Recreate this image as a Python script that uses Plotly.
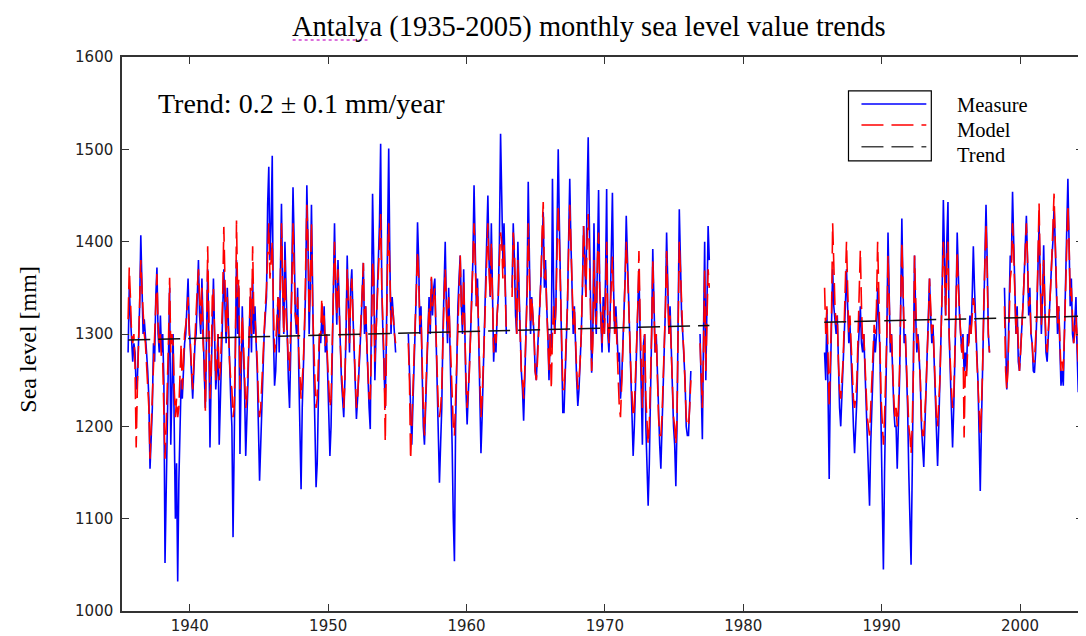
import plotly.graph_objects as go

# ---------------- data (monthly values, mm) ----------------
# Segment A: Jul 1935 .. Nov 1954
measure_1935_1954 = [
    1280, 1350, 1320, 1300, 1270, 1290,  # 1935 Jul-Dec
    1280, 1240, 1250, 1290, 1330, 1407, 1350, 1300, 1316, 1290, 1280, 1260,  # 1936
    1230, 1154, 1190, 1220, 1290, 1270, 1340, 1372, 1300, 1280, 1320, 1280,  # 1937
    1300, 1250, 1052, 1120, 1200, 1260, 1350, 1180, 1250, 1300, 1200, 1100,  # 1938
    1160, 1032, 1140, 1200, 1250, 1230, 1260, 1290, 1300, 1340, 1360, 1310,  # 1939
    1280, 1250, 1230, 1260, 1290, 1300, 1340, 1380, 1320, 1300, 1360, 1300,  # 1940
    1260, 1220, 1300, 1370, 1300, 1177, 1250, 1330, 1360, 1300, 1240, 1260,  # 1941
    1300, 1180, 1230, 1280, 1320, 1370, 1330, 1290, 1350, 1300, 1260, 1230,  # 1942
    1200, 1080, 1180, 1260, 1380, 1300, 1350, 1170, 1260, 1330, 1280, 1240,  # 1943
    1168, 1200, 1250, 1300, 1340, 1280, 1360, 1300, 1330, 1290, 1260, 1200,  # 1944
    1141, 1180, 1230, 1260, 1300, 1320, 1340, 1440, 1481, 1380, 1420, 1493,  # 1945
    1300, 1244, 1260, 1300, 1340, 1280, 1380, 1441, 1350, 1300, 1400, 1330,  # 1946
    1300, 1250, 1220, 1280, 1350, 1459, 1400, 1320, 1300, 1350, 1260, 1200,  # 1947
    1132, 1220, 1260, 1300, 1350, 1461, 1400, 1300, 1350, 1440, 1320, 1260,  # 1948
    1200, 1134, 1160, 1250, 1300, 1290, 1320, 1300, 1330, 1280, 1300, 1260,  # 1949
    1220, 1168, 1200, 1280, 1330, 1420, 1350, 1310, 1380, 1320, 1290, 1250,  # 1950
    1230, 1210, 1250, 1300, 1385, 1330, 1280, 1350, 1370, 1320, 1280, 1240,  # 1951
    1208, 1230, 1250, 1280, 1310, 1340, 1377, 1300, 1330, 1290, 1250, 1220,  # 1952
    1197, 1300, 1452, 1380, 1250, 1300, 1340, 1380, 1420, 1506, 1350, 1300,  # 1953
    1260, 1220, 1300, 1420, 1501, 1380, 1300, 1340, 1320, 1290, 1280,        # 1954 Jan-Nov
]
model_1935_1954 = [
    1316, 1372, 1340, 1300, 1290, 1300,
    1265, 1177, 1240, 1280, 1320, 1380, 1350, 1320, 1300, 1290, 1270, 1250,
    1220, 1165, 1200, 1240, 1280, 1300, 1330, 1365, 1310, 1290, 1300, 1270,
    1270, 1230, 1165, 1200, 1240, 1290, 1361, 1280, 1300, 1290, 1240, 1210,
    1230, 1210, 1220, 1250, 1290, 1240, 1270, 1300, 1310, 1330, 1340, 1300,
    1290, 1260, 1240, 1270, 1300, 1320, 1350, 1370, 1330, 1310, 1350, 1290,
    1270, 1217, 1290, 1395, 1320, 1230, 1260, 1340, 1350, 1300, 1250, 1270,
    1300, 1250, 1260, 1300, 1340, 1416, 1360, 1300, 1340, 1300, 1270, 1250,
    1240, 1210, 1220, 1280, 1423, 1340, 1360, 1240, 1280, 1320, 1290, 1250,
    1220, 1230, 1260, 1300, 1350, 1300, 1395, 1320, 1320, 1300, 1270, 1230,
    1210, 1220, 1250, 1270, 1310, 1330, 1350, 1400, 1420, 1360, 1380, 1400,
    1330, 1280, 1290, 1310, 1340, 1300, 1370, 1420, 1350, 1300, 1380, 1320,
    1300, 1270, 1260, 1300, 1350, 1420, 1380, 1320, 1310, 1340, 1280, 1250,
    1230, 1250, 1270, 1310, 1360, 1440, 1400, 1320, 1350, 1420, 1330, 1280,
    1250, 1220, 1230, 1270, 1300, 1300, 1339, 1310, 1320, 1287, 1300, 1270,
    1240, 1220, 1230, 1290, 1340, 1400, 1360, 1320, 1370, 1320, 1290, 1260,
    1240, 1220, 1250, 1300, 1370, 1340, 1290, 1340, 1360, 1320, 1280, 1250,
    1220, 1230, 1260, 1290, 1320, 1350, 1377, 1310, 1330, 1290, 1260, 1230,
    1230, 1280, 1380, 1360, 1270, 1300, 1330, 1370, 1400, 1430, 1350, 1310,
    1270, 1183, 1290, 1380, 1420, 1360, 1310, 1330, 1320, 1300, 1290,
]

# Segment B: Oct 1955 .. Jul 1977
N = None
measure_1955_1977 = [
    1300, 1260, 1220,  # 1955 Oct-Dec
    1180, 1224, 1260, 1300, 1350, 1421, 1380, 1300, 1330, 1260, 1200, 1180,  # 1956
    1230, 1270, 1300, 1340, 1300, 1360, 1320, 1350, 1360, 1300, 1250, 1200,  # 1957
    1139, 1180, 1220, 1300, 1350, 1400, 1330, 1290, 1350, 1300, 1250, 1180,  # 1958
    1100, 1054, 1200, 1270, 1330, 1360, 1385, 1330, 1300, 1370, 1280, 1240,  # 1959
    1202, 1230, 1260, 1300, 1340, 1380, 1461, 1400, 1330, 1360, 1300, 1250,  # 1960
    1171, 1210, 1260, 1300, 1350, 1400, 1450, 1380, 1340, 1420, 1320, 1270,  # 1961
    1300, 1280, 1320, 1340, 1400, 1517, 1450, 1380, 1420, 1350, 1300, N,     # 1962
    N, N, N, 1350, 1420, 1380, 1320, 1300, 1400, 1350, 1300, 1260,           # 1963
    1240, 1206, 1250, 1300, 1350, 1465, 1380, 1300, 1340, 1320, 1300, 1260,  # 1964
    1250, 1280, 1300, 1330, 1360, 1400, 1432, 1350, 1380, 1330, 1300, 1250,  # 1965
    1300, 1285, 1468, 1350, 1300, 1330, 1400, 1500, 1420, 1350, 1260, 1215,  # 1966
    1215, 1250, 1300, 1330, 1400, 1468, 1400, 1360, 1300, 1330, 1280, 1250,  # 1967
    1222, 1240, 1270, 1300, 1350, 1417, 1380, 1340, 1450, 1513, 1420, 1300,  # 1968
    1258, 1300, 1420, 1330, 1300, 1380, 1456, 1350, 1300, 1280, 1340, 1300,  # 1969
    1360, 1457, 1300, 1280, 1320, 1380, 1453, 1350, 1300, 1330, 1300, 1270,  # 1970
    1280, 1230, 1250, 1290, 1320, 1360, 1428, 1380, 1340, 1300, 1260, 1220,  # 1971
    1168, 1200, 1250, 1290, 1330, 1370, 1300, 1250, 1180, 1290, 1300, 1200,  # 1972
    1150, 1114, 1160, 1220, 1300, 1392, 1330, 1280, 1300, 1250, 1200, 1180,  # 1973
    1154, 1200, 1250, 1280, 1330, 1410, 1350, 1300, 1330, 1280, 1250, 1200,  # 1974
    1180, 1135, 1200, 1300, 1435, 1380, 1320, 1300, 1280, 1250, 1200, 1190,  # 1975
    1190, 1220, 1260, N, N, N, N, N, N, N, 1300, 1250,                       # 1976
    1186, 1300, 1400, 1250, 1350, 1417, 1380,                                # 1977 Jan-Jul
]
model_1955_1977 = [
    1290, 1250, 1164,
    1200, 1230, 1260, 1300, 1340, 1390, 1362, 1310, 1320, 1260, 1220, 1190,
    1240, 1270, 1300, 1330, 1310, 1362, 1330, 1340, 1350, 1300, 1260, 1220,
    1210, 1220, 1240, 1300, 1340, 1370, 1330, 1300, 1340, 1300, 1260, 1220,
    1200, 1190, 1230, 1280, 1330, 1360, 1385, 1330, 1310, 1360, 1290, 1250,
    1220, 1240, 1260, 1300, 1340, 1370, 1420, 1380, 1330, 1350, 1300, 1260,
    1210, 1230, 1260, 1300, 1340, 1390, 1420, 1370, 1340, 1400, 1320, 1280,
    1300, 1290, 1320, 1340, 1380, 1410, 1400, 1360, 1400, 1340, 1300, N,
    N, N, N, 1340, 1410, 1390, 1330, 1300, 1380, 1340, 1300, 1260,
    1250, 1230, 1260, 1300, 1340, 1420, 1370, 1310, 1340, 1320, 1300, 1260,
    1250, 1270, 1300, 1330, 1360, 1410, 1443, 1360, 1370, 1330, 1300, 1260,
    1300, 1240, 1300, 1330, 1300, 1330, 1390, 1440, 1400, 1340, 1270, 1240,
    1240, 1260, 1300, 1330, 1390, 1440, 1400, 1360, 1310, 1330, 1290, 1260,
    1240, 1250, 1270, 1300, 1350, 1417, 1380, 1340, 1400, 1430, 1390, 1300,
    1260, 1290, 1380, 1330, 1310, 1380, 1410, 1350, 1310, 1290, 1330, 1300,
    1340, 1400, 1310, 1290, 1320, 1360, 1384, 1340, 1300, 1320, 1290, 1260,
    1220, 1210, 1240, 1280, 1320, 1360, 1400, 1370, 1340, 1300, 1260, 1230,
    1210, 1220, 1250, 1290, 1330, 1390, 1320, 1260, 1220, 1290, 1300, 1230,
    1200, 1180, 1200, 1240, 1300, 1380, 1330, 1280, 1300, 1250, 1210, 1190,
    1190, 1210, 1250, 1280, 1330, 1390, 1350, 1300, 1320, 1280, 1250, 1210,
    1200, 1180, 1210, 1300, 1400, 1370, 1320, 1300, 1280, 1250, 1210, 1200,
    1200, 1220, 1250, N, N, N, N, N, N, N, 1290, 1240,
    1220, 1280, 1370, 1260, 1340, 1370, 1350,
]

# Segment C: Nov 1985 .. Dec 2004
measure_1985_2004 = [
    1280, 1250,  # 1985 Nov-Dec
    1327, 1200, 1143, 1250, 1300, 1370, 1330, 1316, 1300, 1320, 1250, 1220,  # 1986
    1200, 1230, 1260, 1300, 1330, 1370, 1330, 1290, 1310, 1280, 1240, 1200,  # 1987
    1171, 1200, 1230, 1280, 1300, 1330, 1290, 1280, 1300, 1260, 1220, 1180,  # 1988
    1150, 1114, 1180, 1230, 1270, 1300, 1280, 1300, 1350, 1310, 1280, 1200,  # 1989
    1100, 1045, 1150, 1220, 1300, 1410, 1330, 1280, 1300, 1250, 1220, 1200,  # 1990
    1200, 1154, 1200, 1250, 1330, 1425, 1350, 1290, 1300, 1260, 1220, 1150,  # 1991
    1100, 1050, 1150, 1250, 1385, 1320, 1280, 1300, 1280, 1250, 1200, 1170,  # 1992
    1156, 1200, 1240, 1280, 1300, 1360, 1320, 1290, 1310, 1270, 1220, 1200,  # 1993
    1157, 1200, 1250, 1300, 1350, 1445, 1380, 1320, 1400, 1443, 1300, 1250,  # 1994
    1230, 1177, 1220, 1270, 1330, 1410, 1350, 1320, 1300, 1280, 1300, 1260,  # 1995
    1280, 1260, 1300, 1290, 1320, 1300, 1340, 1395, 1350, 1300, 1280, 1250,  # 1996
    1200, 1130, 1200, 1260, 1330, 1400, 1440, 1380, 1300, 1280, N, N,        # 1997
    N, N, N, N, N, N, N, N, N, N, 1350, 1290,                                # 1998
    1240, 1270, 1330, 1385, 1380, 1454, 1400, 1330, 1300, 1330, 1270, 1260,  # 1999
    1280, 1300, 1330, 1360, 1400, 1428, 1380, 1320, 1350, 1300, 1290, 1260,  # 2000
    1258, 1280, 1320, 1380, 1420, 1360, 1300, 1340, 1396, 1330, 1280, 1270,  # 2001
    1300, 1320, 1350, 1380, 1400, 1438, 1400, 1350, 1300, 1330, 1280, 1244,  # 2002
    1260, 1244, 1300, 1350, 1420, 1468, 1400, 1330, 1360, 1300, 1290, 1320,  # 2003
    1340, 1280, 1237, 1400, 1475, 1420, 1380, 1350, 1390, 1340, 1300, 1280,  # 2004
]
model_1985_2004 = [
    1350, 1300,
    1330, 1250, 1220, 1270, 1320, 1420, 1360, 1330, 1310, 1320, 1270, 1240,
    1230, 1250, 1270, 1310, 1350, 1400, 1350, 1300, 1320, 1290, 1260, 1230,
    1220, 1230, 1250, 1290, 1330, 1391, 1330, 1290, 1300, 1270, 1240, 1210,
    1200, 1190, 1220, 1250, 1280, 1310, 1300, 1330, 1400, 1320, 1290, 1230,
    1200, 1180, 1210, 1250, 1300, 1385, 1330, 1290, 1300, 1260, 1230, 1210,
    1220, 1200, 1220, 1260, 1330, 1400, 1350, 1300, 1300, 1270, 1230, 1200,
    1190, 1170, 1200, 1260, 1385, 1330, 1290, 1300, 1280, 1250, 1210, 1190,
    1190, 1210, 1240, 1280, 1310, 1360, 1320, 1300, 1310, 1270, 1230, 1210,
    1200, 1220, 1250, 1300, 1340, 1400, 1370, 1320, 1380, 1400, 1300, 1260,
    1240, 1220, 1230, 1280, 1330, 1390, 1350, 1320, 1300, 1280, 1300, 1188,
    1260, 1250, 1280, 1290, 1310, 1300, 1320, 1339, 1330, 1300, 1280, 1250,
    1220, 1190, 1220, 1260, 1330, 1390, 1420, 1370, 1300, 1280, N, N,
    N, N, N, N, N, N, N, N, N, N, 1330, 1260,
    1240, 1260, 1310, 1360, 1370, 1420, 1390, 1340, 1300, 1320, 1280, 1260,
    1280, 1300, 1330, 1360, 1390, 1420, 1380, 1330, 1340, 1300, 1290, 1270,
    1270, 1290, 1320, 1380, 1442, 1370, 1310, 1340, 1380, 1330, 1290, 1280,
    1300, 1320, 1350, 1380, 1410, 1452, 1400, 1350, 1310, 1330, 1290, 1260,
    1270, 1260, 1300, 1350, 1410, 1440, 1400, 1340, 1350, 1310, 1290, 1300,
    1320, 1290, 1270, 1380, 1450, 1420, 1380, 1350, 1380, 1340, 1300, 1280,
]

# segment starts (year, month)
seg_starts = [(1935, 7), (1955, 10), (1985, 11)]

# linear trend end points (year, mm)
trend_years = [1935.55, 1977.55, None, 1985.85, 2004.9]
trend_vals = [1293.5, 1309.2, None, 1312.8, 1319.4]

x_ticks = [1940, 1950, 1960, 1970, 1980, 1990, 2000]
y_ticks = [1000, 1100, 1200, 1300, 1400, 1500, 1600]


def month_axis(year, month, n):
    return [year + (month - 1 + i) / 12 + 1 / 24 for i in range(n)]


def join(segments):
    xs, ys = [], []
    for (yr, mo), vals in zip(seg_starts, segments):
        if xs:
            xs.append(None)
            ys.append(None)
        xs += month_axis(yr, mo, len(vals))
        ys += vals
    return xs, ys


mx, my = join([measure_1935_1954, measure_1955_1977, measure_1985_2004])
rx, ry = join([model_1935_1954, model_1955_1977, model_1985_2004])

# ---------------- figure ----------------
OFF = 8                      # page body margin of the browser
PL, PR, PT, PB = 122, 1085, 57, 612   # plot area in page pixels
W, H = 1086 - OFF, 636 - OFF


def px(x):
    return (x - PL) / (PR - PL)


def py(y):
    return (PB - y) / (PB - PT)


SERIF = "Liberation Serif, Times New Roman, serif"
DASH = "22px,8px"

fig = go.Figure()
fig.add_trace(go.Scatter(x=mx, y=my, mode="lines", name="Measure",
                         line=dict(color="#0000FF", width=1.6), connectgaps=False))
fig.add_trace(go.Scatter(x=rx, y=ry, mode="lines", name="Model",
                         line=dict(color="#FF0000", width=1.6, dash=DASH), connectgaps=False))
fig.add_trace(go.Scatter(x=trend_years, y=trend_vals, mode="lines", name="Trend",
                         line=dict(color="#111111", width=1.5, dash=DASH), connectgaps=False))

axis_common = dict(showgrid=False, zeroline=False, showline=True, linecolor="#333333",
                   linewidth=1.5, mirror="ticks", ticks="inside", ticklen=7,
                   tickwidth=1.2, tickcolor="#333333",
                   tickfont=dict(family="DejaVu Sans", size=15, color="#222222"))

fig.update_layout(
    width=W, height=H,
    margin=dict(l=PL - OFF, r=W - (PR - OFF), t=PT - OFF, b=H - (PB - OFF), pad=0),
    paper_bgcolor="white", plot_bgcolor="white",
    showlegend=False,
    xaxis=dict(range=[1935.1, 2004.55], tickvals=x_ticks, **axis_common),
    yaxis=dict(range=[1000, 1600], tickvals=y_ticks, ticklabelstandoff=4, **axis_common),
)

ann = [
    dict(text="Antalya (1935-2005) monthly sea level value trends",
         x=px(590), y=py(27), font=dict(family=SERIF, size=28.5, color="black")),
    dict(text="Sea level [mm]", x=px(28), y=py(340), textangle=-90,
         font=dict(family=SERIF, size=24, color="black")),
    dict(text="Trend: 0.2 \u00b1 0.1 mm/year", x=px(157), y=py(104), xanchor="left",
         font=dict(family=SERIF, size=28, color="black")),
    dict(text="Measure", x=px(958), y=py(105), xanchor="left",
         font=dict(family=SERIF, size=20.5, color="black")),
    dict(text="Model", x=px(958), y=py(130), xanchor="left",
         font=dict(family=SERIF, size=20.5, color="black")),
    dict(text="Trend", x=px(958), y=py(155), xanchor="left",
         font=dict(family=SERIF, size=20.5, color="black")),
]
for a in ann:
    a.setdefault("xanchor", "center")
    fig.add_annotation(xref="paper", yref="paper", yanchor="middle",
                       showarrow=False, borderpad=0, **a)

shapes = [
    dict(type="rect", x0=px(850), x1=px(933), y0=py(161), y1=py(91),
         line=dict(color="black", width=1.2), fillcolor="white"),
    dict(type="line", x0=px(863), x1=px(928), y0=py(104), y1=py(104),
         line=dict(color="#0000FF", width=1.5)),
    dict(type="line", x0=px(863), x1=px(928), y0=py(125), y1=py(125),
         line=dict(color="#FF0000", width=1.5, dash=DASH)),
    dict(type="line", x0=px(863), x1=px(928), y0=py(147), y1=py(147),
         line=dict(color="#444444", width=1.5, dash=DASH)),
    dict(type="line", x0=px(293), x1=px(368), y0=py(40), y1=py(40),
         line=dict(color="#D040D0", width=1.5, dash="dot")),
]
for s in shapes:
    fig.add_shape(xref="paper", yref="paper", layer="above", **s)

fig.write_html("out.html")
